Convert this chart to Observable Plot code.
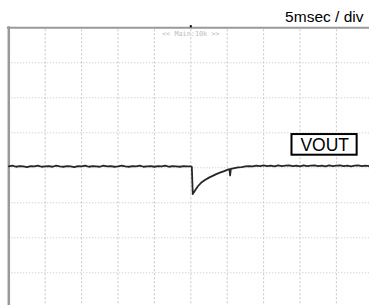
<!DOCTYPE html>
<html>
<head>
<meta charset="utf-8">
<script src="https://cdn.jsdelivr.net/npm/d3@7"></script>
<script src="https://cdn.jsdelivr.net/npm/@observablehq/plot@0.6"></script>
<style>
  html, body { margin: 0; padding: 0; background: #fff; }
  #chart svg { display: block; }
</style>
</head>
<body>
<div id="chart"></div>
<script>
// Time axis in ms (5 ms/div, trigger at centre), vertical in divisions
const gridTimes = [-20, -15, -10, -5, 0, 5, 10, 15, 20];
const gridLevels = [-3, -2, -1, 0, 1, 2, 3];
const timeMs = [
  -25, -24.5, -24, -23.5, -23, -22.5, -22, -21.5, -21, -20.5,
  -20, -19.5, -19, -18.5, -18, -17.5, -17, -16.5, -16, -15.5,
  -15, -14.5, -14, -13.5, -13, -12.5, -12, -11.5, -11, -10.5,
  -10, -9.5, -9, -8.5, -8, -7.5, -7, -6.5, -6, -5.5,
  -5, -4.5, -4, -3.5, -3, -2.5, -2, -1.5, -1, -0.5,
  0, 0.14, 0.27, 0.6, 1, 1.5, 2, 2.5, 3, 3.5,
  4, 4.5, 5, 5.3, 5.4, 5.5, 6, 6.5, 7, 7.5,
  8, 8.5, 9, 9.5, 10, 10.5, 11, 11.5, 12, 12.5,
  13, 13.5, 14, 14.5, 15, 15.5, 16, 16.5, 17, 17.5,
  18, 18.5, 19, 19.5, 20, 20.5, 21, 21.5, 22, 22.5,
  23, 23.5, 24, 24.5, 25
];
const voutDiv = [
  0.04, 0.06, 0.03, 0.05, 0.04, 0.02, 0.05, 0.04, 0.06, 0.03,
  0.04, 0.05, 0.03, 0.06, 0.04, 0.03, 0.05, 0.04, 0.02, 0.05,
  0.04, 0.06, 0.03, 0.05, 0.04, 0.03, 0.06, 0.04, 0.05, 0.03,
  0.04, 0.06, 0.04, 0.03, 0.05, 0.04, 0.06, 0.03, 0.04, 0.05,
  0.03, 0.05, 0.04, 0.06, 0.03, 0.05, 0.04, 0.03, 0.05, 0.04,
  0.04, 0.03, -0.75, -0.64, -0.52, -0.41, -0.34, -0.28, -0.23, -0.18,
  -0.14, -0.10, -0.06, -0.04, -0.22, -0.03, -0.01, 0.01, 0.02, 0.04,
  0.05, 0.04, 0.06, 0.05, 0.07, 0.05, 0.06, 0.04, 0.07, 0.05,
  0.06, 0.07, 0.05, 0.06, 0.04, 0.07, 0.05, 0.06, 0.07, 0.05,
  0.06, 0.04, 0.07, 0.05, 0.06, 0.07, 0.05, 0.06, 0.04, 0.06,
  0.07, 0.05, 0.06, 0.05, 0.06
];
const timebaseLabel = "5msec / div";
const channelLabel = "VOUT";
const channelLabelTime = [18.4];
const channelLabelLevel = [0.65];
const channelBox = {x1: 13.9, x2: 22.85, y1: 0.36, y2: 0.95};
const menuLabel = "<< Main:10k >>";

const trace = timeMs.map((t, i) => ({t, v: voutDiv[i]}));

const plot = Plot.plot({
  width: 369,
  height: 305,
  margin: 0,
  style: {background: "#fff", fontFamily: "Liberation Sans, Arial, sans-serif"},
  x: {domain: [-25, 25], range: [8.3, 372.3], axis: null},
  y: {domain: [-4, 4], range: [307.3, 27.3], axis: null},
  marks: [
    Plot.ruleX(gridTimes, {stroke: "#c6c6c6", strokeWidth: 1, strokeDasharray: "2,2", y1: -4, y2: 4}),
    Plot.ruleY(gridLevels, {stroke: "#c0c0c0", strokeWidth: 1, strokeDasharray: "1,2", x1: -25, x2: 25}),
    // frame (left and top border)
    Plot.ruleX([-25], {stroke: "#999", strokeWidth: 2.5, y1: -4, y2: 4.03}),
    Plot.ruleY([4], {stroke: "#999", strokeWidth: 2, x1: -25.2, x2: 26}),
    Plot.ruleX([0], {stroke: "#000", strokeWidth: 2, y1: 4, y2: 4.06}),
    Plot.text([menuLabel], {x: [0], y: [3.83], fill: "#bdbdbd", fontSize: 6.8, fontFamily: "DejaVu Sans Mono, monospace"}),
    Plot.line(trace, {x: "t", y: "v", stroke: "#262626", strokeWidth: 1.8, curve: "linear"}),
    Plot.rect([channelBox], {x1: "x1", x2: "x2", y1: "y1", y2: "y2", fill: "#fff", stroke: "#000", strokeWidth: 2}),
    Plot.text([channelLabel], {x: channelLabelTime, y: channelLabelLevel, fill: "#000", fontSize: 17.5}),
    Plot.text([timebaseLabel], {frameAnchor: "top-right", dx: -6, dy: 10, textAnchor: "end", lineAnchor: "top", fill: "#000", fontSize: 15.5})
  ]
});
document.getElementById("chart").appendChild(plot);
</script>
</body>
</html>
